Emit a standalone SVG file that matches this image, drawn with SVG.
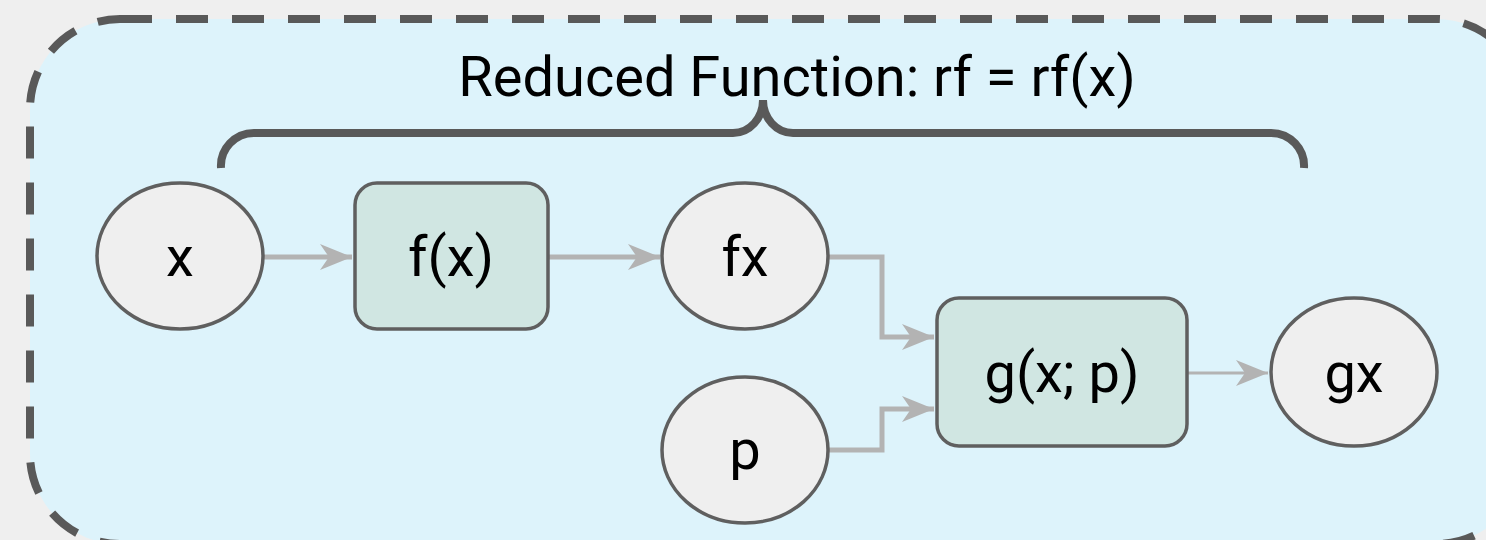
<svg xmlns="http://www.w3.org/2000/svg" width="1486" height="540" viewBox="0 0 1486 540">
<defs>
<style>
.ell{fill:#efefef;stroke:#5f5f5f;stroke-width:3.5}
.box{fill:#d0e6e2;stroke:#5f5f5f;stroke-width:3.5}
.lbl{font-family:Roboto,"Liberation Sans",sans-serif;font-size:56px;fill:#000;text-anchor:middle}
.edge{fill:none;stroke:#b3b3b3;stroke-width:5}
</style>
<marker id="arr" viewBox="0 0 32 28" refX="32" refY="14" markerWidth="32" markerHeight="28" markerUnits="userSpaceOnUse" orient="auto">
<path d="M0,1 L32,14 L0,27 L9,14 Z" fill="#b3b3b3"/>
</marker>
</defs>
<rect width="1486" height="540" fill="#efefef"/>
<g id="container">
<rect x="30" y="19" width="1496" height="525" rx="90" ry="90" fill="#ddf3fb" stroke="#595959" stroke-width="8" stroke-dasharray="32 24"/>
<text class="lbl" x="797" y="96">Reduced Function: rf = rf(x)</text>
<path d="M221,168 A33,33 0 0 1 254,133 L733,133 A30,33 0 0 0 763,100 A30,33 0 0 0 793,133 L1271,133 A33,33 0 0 1 1304,168" fill="none" stroke="#595959" stroke-width="8"/>
</g>
<g id="connectors">
<path class="edge" d="M263,257 L352,257" marker-end="url(#arr)"/>
<path class="edge" d="M548,257 L660,257" marker-end="url(#arr)"/>
<path class="edge" d="M828,257 L882,257 L882,337 L934,337" marker-end="url(#arr)"/>
<path class="edge" d="M828,450 L882,450 L882,409 L934,409" marker-end="url(#arr)"/>
<path class="edge" d="M1187,373 L1268,373" style="stroke-width:3" marker-end="url(#arr)"/>
</g>
<g id="node-x">
<ellipse class="ell" cx="180" cy="256" rx="83" ry="73"/>
<text class="lbl" x="180" y="276">x</text>
</g>
<g id="node-fx-func">
<rect class="box" x="355" y="183" width="193" height="146" rx="22"/>
<text class="lbl" x="451" y="276">f(x)</text>
</g>
<g id="node-fx">
<ellipse class="ell" cx="745" cy="256" rx="83" ry="73"/>
<text class="lbl" x="745" y="276">fx</text>
</g>
<g id="node-p">
<ellipse class="ell" cx="745" cy="450" rx="83" ry="73"/>
<text class="lbl" x="745" y="469">p</text>
</g>
<g id="node-g">
<rect class="box" x="937" y="298" width="250" height="148" rx="22"/>
<text class="lbl" x="1062" y="392">g(x; p)</text>
</g>
<g id="node-gx">
<ellipse class="ell" cx="1354" cy="372" rx="83" ry="74"/>
<text class="lbl" x="1354" y="392">gx</text>
</g>
</svg>
